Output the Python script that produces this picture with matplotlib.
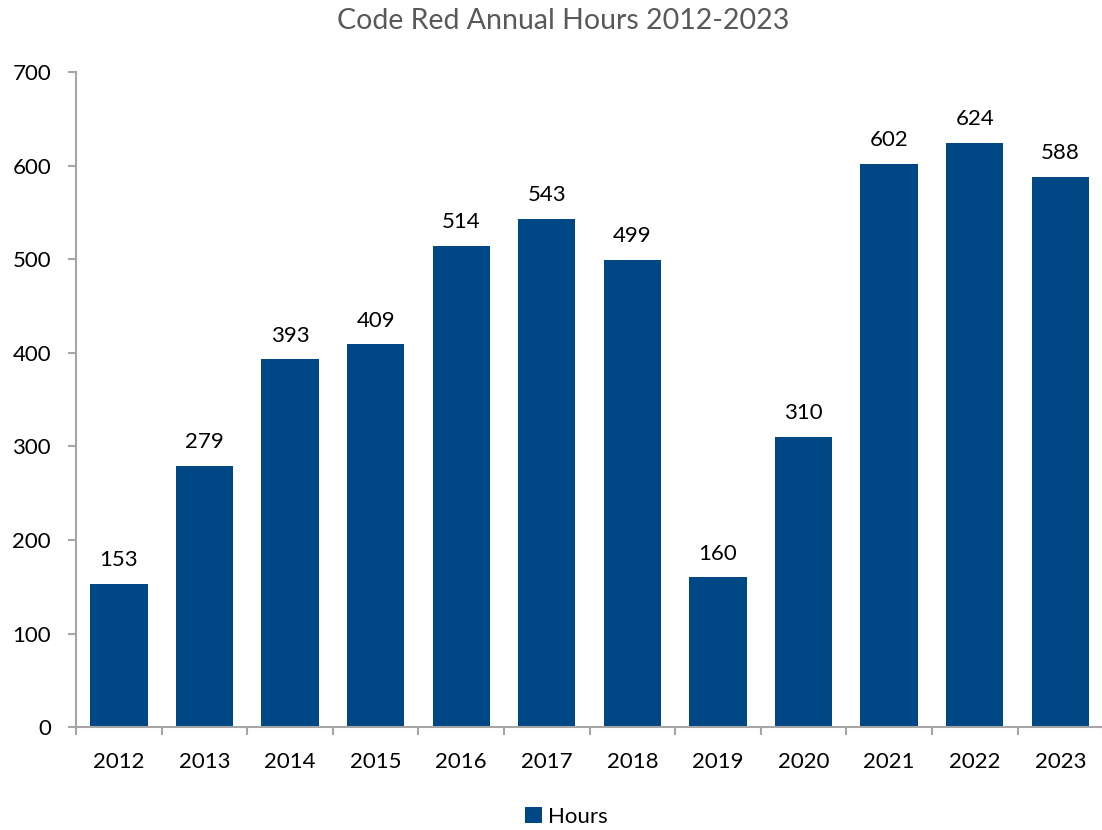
import matplotlib
matplotlib.use("Agg")
import matplotlib.pyplot as plt
import numpy as np

years = ["2012", "2013", "2014", "2015", "2016", "2017",
         "2018", "2019", "2020", "2021", "2022", "2023"]
hours = [153, 279, 393, 409, 514, 543, 499, 160, 310, 602, 624, 588]
y_ticks = [0, 100, 200, 300, 400, 500, 600, 700]

BAR_COLOR = "#004785"
AXIS_COLOR = "#a6a6a6"

plt.rcParams["font.family"] = ["Lato", "DejaVu Sans"]

fig = plt.figure(figsize=(11.02, 8.30), dpi=100)
ax = fig.add_axes([0.069, 0.124, 0.932, 0.789])

x = np.arange(len(years))
bars = ax.bar(x, hours, width=0.67, color=BAR_COLOR, label="Hours", zorder=2)

for xi, v in zip(x, hours):
    ax.annotate(str(v), (xi, v), xytext=(0, 10), textcoords="offset points",
                ha="center", va="bottom", fontsize=16, color="black")

ax.set_xlim(-0.5, len(years) - 0.5)
ax.set_ylim(0, 700)
ax.set_yticks(y_ticks)
ax.set_yticklabels([str(t) for t in y_ticks], fontsize=16)
ax.set_xticks(x)
ax.set_xticklabels(years, fontsize=16)
ax.set_xticks(np.arange(-0.5, len(years)), minor=True)

ax.tick_params(axis="x", which="major", length=0, pad=18)
ax.tick_params(axis="x", which="minor", length=6, width=1.5, color=AXIS_COLOR, direction="out")
ax.tick_params(axis="y", length=6, width=1.5, color=AXIS_COLOR, pad=12)

for side in ("top", "right"):
    ax.spines[side].set_visible(False)
for side in ("left", "bottom"):
    ax.spines[side].set_color(AXIS_COLOR)
    ax.spines[side].set_linewidth(1.5)

fig.text(0.511, 0.975, "Code Red Annual Hours 2012-2023", ha="center", va="center",
         fontsize=20.5, color="#595959")

fig.legend(handles=[bars], labels=["Hours"], loc="center", bbox_to_anchor=(0.514, 0.016),
           frameon=False, fontsize=16, handlelength=0.75, handleheight=0.75, handletextpad=0.3)

fig.savefig("out.png", dpi=100)
